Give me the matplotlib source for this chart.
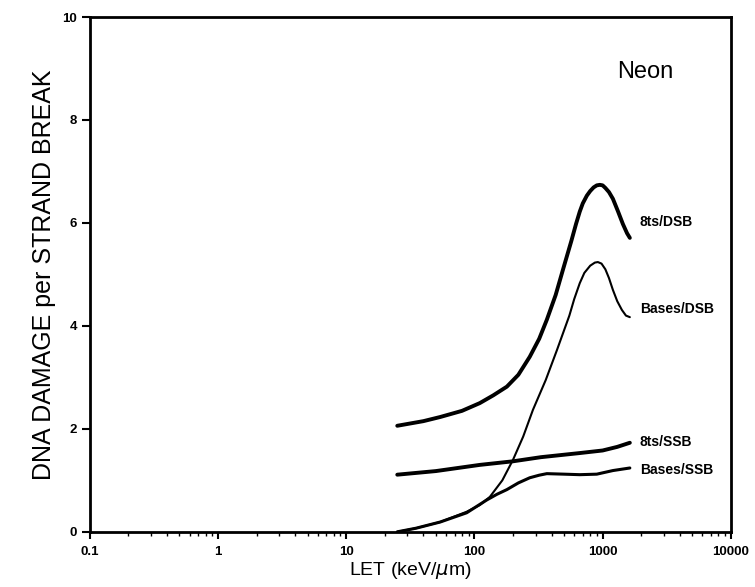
import numpy as np
import matplotlib
matplotlib.use("Agg")
import matplotlib.pyplot as plt
from matplotlib.ticker import FixedLocator, LogLocator, NullFormatter

plt.rcParams['font.family'] = ['Liberation Sans', 'DejaVu Sans']

# values (LET in keV/um, damage per strand break)
let_sts_dsb = [25, 40, 54, 80, 110, 140, 179, 220, 270, 320, 367, 430, 490,
               570, 620, 663, 700, 753, 800, 850, 900, 951, 1000, 1050, 1120,
               1202, 1320, 1438, 1550, 1630]
val_sts_dsb = [2.06, 2.15, 2.23, 2.35, 2.50, 2.65, 2.82, 3.05, 3.40, 3.75, 4.12,
               4.60, 5.09, 5.65, 5.98, 6.22, 6.38, 6.53, 6.62, 6.69, 6.73, 6.74,
               6.73, 6.68, 6.60, 6.47, 6.22, 5.98, 5.80, 5.71]

let_bases_dsb = [25, 35, 54, 87, 110, 132, 165, 200, 240, 286, 360, 440, 550,
                 600, 663, 720, 800, 870, 918, 980, 1050, 1120, 1202, 1300, 1413,
                 1520, 1630]
val_bases_dsb = [0.0, 0.07, 0.19, 0.39, 0.52, 0.68, 1.0, 1.40, 1.85, 2.37, 2.95,
                 3.53, 4.2, 4.52, 4.83, 5.03, 5.17, 5.23, 5.24, 5.21, 5.10, 4.93,
                 4.70, 4.48, 4.31, 4.20, 4.17]

let_sts_ssb = [25, 50, 110, 200, 330, 663, 1000, 1300, 1630]
val_sts_ssb = [1.11, 1.18, 1.30, 1.37, 1.45, 1.53, 1.58, 1.65, 1.73]

let_bases_ssb = [25, 35, 54, 87, 125, 150, 179, 220, 270, 320, 367, 500, 663,
                 900, 1202, 1630]
val_bases_ssb = [0.0, 0.07, 0.19, 0.37, 0.62, 0.73, 0.82, 0.95, 1.05, 1.10, 1.13,
                 1.12, 1.11, 1.12, 1.19, 1.24]

xticks = [0.1, 1, 10, 100, 1000, 10000]
xtick_labels = ['0.1', '1', '10', '100', '1000', '10000']
yticks = [0, 2, 4, 6, 8, 10]

curve_labels = ['8ts/DSB', 'Bases/DSB', '8ts/SSB', 'Bases/SSB']
label_y = [6.02, 4.33, 1.75, 1.20]

fig = plt.figure(figsize=(7.55, 5.87), dpi=100)
ax = fig.add_axes([0.119, 0.094, 0.849, 0.877])

ax.plot(let_sts_dsb, val_sts_dsb, color='black', lw=2.8, solid_capstyle='round',
        solid_joinstyle='round')
ax.plot(let_bases_dsb, val_bases_dsb, color='black', lw=1.5, solid_capstyle='round',
        solid_joinstyle='round')
ax.plot(let_sts_ssb, val_sts_ssb, color='black', lw=2.8, solid_capstyle='round',
        solid_joinstyle='round')
ax.plot(let_bases_ssb, val_bases_ssb, color='black', lw=2.2, solid_capstyle='round',
        solid_joinstyle='round')

for lab, yy in zip(curve_labels, label_y):
    ax.text(1950, yy, lab, fontsize=10, fontweight='bold', va='center', ha='left')

ax.text(2135, 8.93, 'Neon', fontsize=17, va='center', ha='center')

ax.set_xscale('log')
ax.set_xlim(0.1, 10000)
ax.set_ylim(0, 10)

ax.xaxis.set_major_locator(FixedLocator(xticks))
ax.set_xticklabels(xtick_labels)
ax.xaxis.set_minor_locator(LogLocator(base=10, subs=np.arange(2, 10)))
ax.xaxis.set_minor_formatter(NullFormatter())
ax.set_yticks(yticks)

for lbl in ax.get_xticklabels() + ax.get_yticklabels():
    lbl.set_fontweight('bold')
    lbl.set_fontsize(9.5)

ax.tick_params(axis='x', which='major', direction='out', length=5, width=1.5, pad=5)
ax.tick_params(axis='x', which='minor', direction='out', length=3, width=1)
ax.tick_params(axis='y', which='major', direction='out', length=6, width=1.5, pad=3)

for sp in ax.spines.values():
    sp.set_linewidth(2)

ax.set_xlabel('LET (keV/$\\mu$m)', fontsize=14, labelpad=2)
ax.set_ylabel('DNA DAMAGE per STRAND BREAK', fontsize=18, labelpad=5)

fig.savefig('out.png', dpi=100)
